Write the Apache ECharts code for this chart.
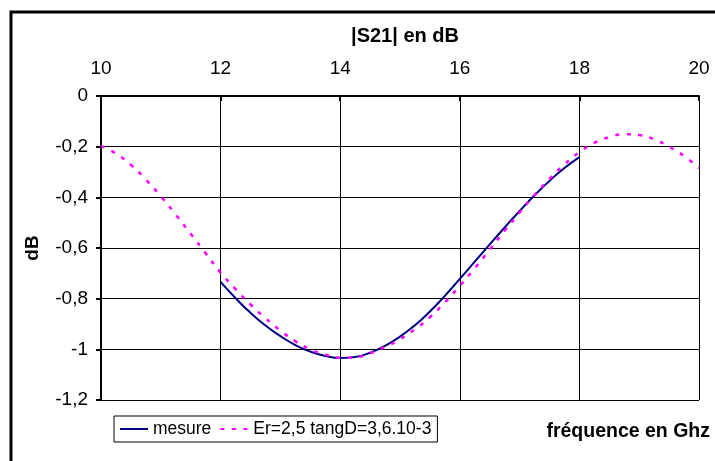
<!DOCTYPE html>
<html>
<head>
<meta charset="utf-8">
<script src="https://cdn.jsdelivr.net/npm/echarts@6/dist/echarts.min.js"></script>
<style>
html,body{margin:0;padding:0;background:#fff;}
#c{width:715px;height:461px;}
</style>
</head>
<body>
<div id="c"></div>
<script>
var FONT = '"Liberation Sans", Arial, sans-serif';
var xTicks = [10, 12, 14, 16, 18, 20];
var yTicks = [0, -0.2, -0.4, -0.6, -0.8, -1, -1.2];

var freqSim = [10,10.25,10.5,10.75,11,11.25,11.5,11.75,12,12.25,12.5,12.75,13,13.25,13.5,13.75,14,14.25,14.5,14.75,15,15.25,15.5,15.75,16,16.25,16.5,16.75,17,17.25,17.5,17.75,18,18.25,18.5,18.75,19,19.25,19.5,19.75,20];
var simVals = [-0.197,-0.227,-0.272,-0.330,-0.396,-0.468,-0.544,-0.621,-0.697,-0.762,-0.823,-0.877,-0.926,-0.968,-1.0,-1.021,-1.033,-1.031,-1.016,-0.991,-0.96,-0.921,-0.873,-0.815,-0.75,-0.68,-0.606,-0.532,-0.46,-0.391,-0.327,-0.27,-0.222,-0.185,-0.162,-0.151,-0.154,-0.171,-0.2,-0.237,-0.285];

var freqMes = [12,12.25,12.5,12.75,13,13.25,13.5,13.75,14,14.25,14.5,14.75,15,15.25,15.5,15.75,16,16.25,16.5,16.75,17,17.25,17.5,17.75,18];
var mesVals = [-0.734,-0.798,-0.856,-0.906,-0.948,-0.983,-1.009,-1.026,-1.034,-1.03,-1.013,-0.986,-0.95,-0.905,-0.851,-0.789,-0.722,-0.654,-0.586,-0.519,-0.454,-0.392,-0.335,-0.284,-0.241];

function pairs(xs, ys){ return xs.map(function(x,i){ return [x, ys[i]]; }); }

var chart = echarts.init(document.getElementById('c'));
chart.setOption({
  animation: false,
  backgroundColor: '#fff',
  textStyle: { fontFamily: FONT },
  title: {
    text: '|S21| en dB',
    left: 400, top: 21,
    textAlign: 'center',
    textStyle: { fontFamily: FONT, fontSize: 20, fontWeight: 'bold', color: '#000' }
  },
  legend: {
    left: 114, top: 416,
    orient: 'horizontal',
    padding: [4, 6, 4, 5],
    itemWidth: 28, itemHeight: 12, itemGap: 8,
    borderColor: '#000', borderWidth: 1,
    itemStyle: { opacity: 0 },
    textStyle: { fontFamily: FONT, fontSize: 17.5, color: '#000' },
    data: ['mesure', 'Er=2,5 tangD=3,6.10-3']
  },
  grid: { left: 101, top: 96, right: 16, bottom: 61, containLabel: false },
  xAxis: {
    type: 'value', position: 'top',
    min: xTicks[0], max: xTicks[xTicks.length-1], interval: 2,
    axisLine: { show: true, lineStyle: { color: '#000', width: 2 } },
    axisTick: { show: true, inside: true, length: 5, lineStyle: { color: '#000', width: 2 } },
    axisLabel: { fontFamily: FONT, fontSize: 19, color: '#000', margin: 18 },
    splitLine: { show: true, lineStyle: { color: '#000', width: 1 } }
  },
  yAxis: {
    type: 'value',
    min: -1.2, max: 0, interval: 0.2,
    name: 'dB', nameLocation: 'middle', nameGap: 59, nameRotate: 90,
    nameTextStyle: { fontFamily: FONT, fontSize: 19, fontWeight: 'bold', color: '#000' },
    axisLine: { show: true, lineStyle: { color: '#000', width: 2 } },
    axisTick: { show: true, inside: false, length: 5, lineStyle: { color: '#000', width: 2 } },
    axisLabel: {
      fontFamily: FONT, fontSize: 19, color: '#000', margin: 13,
      formatter: function(v){ var r = Math.round(v*10)/10; return String(r).replace('.', ','); }
    },
    splitLine: { show: true, lineStyle: { color: '#000', width: 1 } }
  },
  graphic: [
    { type: 'rect', shape: { x: 11, y: 12, width: 720, height: 470 }, style: { fill: 'none', stroke: '#000', lineWidth: 3 }, silent: true },
    { type: 'text', right: 5, top: 422, style: { text: 'fréquence en Ghz', fontFamily: FONT, fontSize: 19.5, fontWeight: 'bold', fill: '#000' } }
  ],
  series: [
    {
      name: 'mesure', type: 'line', smooth: true, symbol: 'none',
      data: pairs(freqMes, mesVals),
      lineStyle: { color: '#000080', width: 2 }, itemStyle: { color: '#000080' }, z: 3
    },
    {
      name: 'Er=2,5 tangD=3,6.10-3', type: 'line', smooth: true, symbol: 'none',
      data: pairs(freqSim, simVals),
      lineStyle: { color: '#ff00ff', width: 2.5, type: [4, 7.5] }, itemStyle: { color: '#ff00ff' }, z: 4
    }
  ]
});
</script>
</body>
</html>
